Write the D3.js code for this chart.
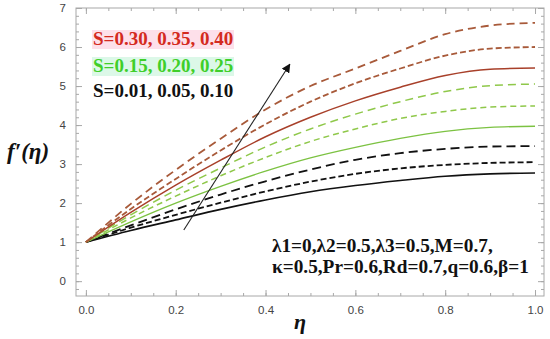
<!DOCTYPE html>
<html>
<head>
<meta charset="utf-8">
<script src="https://cdn.jsdelivr.net/npm/d3@7"></script>
<style>
  body { margin: 0; background: #fff; }
  .tick text { font-family: "Liberation Sans", Arial, sans-serif; font-size: 11.5px; fill: #444; }
  .serif { font-family: "Liberation Serif", "DejaVu Serif", "Times New Roman", serif; font-weight: bold; }
</style>
</head>
<body>
<script>
// eta sample points
var eta = [0, 0.1, 0.2, 0.3, 0.4, 0.5, 0.6, 0.7, 0.8, 0.9, 1.0];

// f'(eta), one array per S value
var s001 = [1, 1.30, 1.57, 1.84, 2.08, 2.29, 2.45, 2.58, 2.69, 2.75, 2.77];
var s005 = [1, 1.37, 1.70, 2.01, 2.30, 2.55, 2.75, 2.89, 2.98, 3.03, 3.05];
var s010 = [1, 1.43, 1.84, 2.22, 2.56, 2.86, 3.11, 3.28, 3.39, 3.45, 3.46];
var s015 = [1, 1.52, 2.00, 2.43, 2.82, 3.16, 3.43, 3.66, 3.84, 3.94, 3.97];
var s020 = [1, 1.62, 2.18, 2.70, 3.17, 3.58, 3.90, 4.17, 4.35, 4.46, 4.49];
var s025 = [1, 1.70, 2.33, 2.90, 3.44, 3.90, 4.28, 4.60, 4.86, 5.01, 5.05];
var s030 = [1, 1.76, 2.46, 3.10, 3.70, 4.20, 4.62, 4.97, 5.27, 5.43, 5.46];
var s035 = [1, 1.85, 2.62, 3.35, 4.02, 4.60, 5.07, 5.45, 5.78, 5.96, 6.00];
var s040 = [1, 1.98, 2.85, 3.65, 4.40, 5.00, 5.45, 5.90, 6.33, 6.55, 6.62];

var xTicks = [0, 0.2, 0.4, 0.6, 0.8, 1.0];
var yTicks = [0, 1, 2, 3, 4, 5, 6, 7];

var legendLabels = ["S=0.30, 0.35, 0.40", "S=0.15, 0.20, 0.25", "S=0.01, 0.05, 0.10"];
var paramLines = ["\u03bb1=0,\u03bb2=0.5,\u03bb3=0.5,M=0.7,", "\u03ba=0.5,Pr=0.6,Rd=0.7,q=0.6,\u03b2=1"];

var width = 550, height = 339;
var margin = {left: 76, right: 6, top: 8, bottom: 43};

var svg = d3.select("body").append("svg")
    .attr("width", width)
    .attr("height", height);

var x = d3.scaleLinear()
    .domain([-0.022, 1.02])
    .range([margin.left, width - margin.right]);

var y = d3.scaleLinear()
    .domain([-0.38, 7.0])
    .range([height - margin.bottom, margin.top]);

var frameColor = "#a8a8a8";

//frame
svg.append("rect")
    .attr("x", margin.left)
    .attr("y", margin.top)
    .attr("width", width - margin.left - margin.right)
    .attr("height", height - margin.top - margin.bottom)
    .attr("fill", "none")
    .attr("stroke", frameColor)
    .attr("stroke-width", 1);

//axes with inward ticks
function styleAxis(g){
    g.select(".domain").remove();
    g.selectAll(".tick line").attr("stroke", frameColor);
}

var xMinor = d3.range(0, 1.0001, 0.05);
var yMinor = d3.range(-0.2, 7.0001, 0.2);

svg.append("g")
    .attr("transform", "translate(0," + (height - margin.bottom) + ")")
    .call(d3.axisBottom(x).tickValues(xTicks).tickFormat(d3.format(".1f")).tickSize(-6).tickPadding(10))
    .call(styleAxis);

svg.append("g")
    .attr("transform", "translate(0," + (height - margin.bottom) + ")")
    .call(d3.axisBottom(x).tickValues(xMinor).tickFormat("").tickSize(-3))
    .call(styleAxis);

svg.append("g")
    .attr("transform", "translate(0," + margin.top + ")")
    .call(d3.axisTop(x).tickValues(xTicks).tickFormat("").tickSize(-6))
    .call(styleAxis);

svg.append("g")
    .attr("transform", "translate(0," + margin.top + ")")
    .call(d3.axisTop(x).tickValues(xMinor).tickFormat("").tickSize(-3))
    .call(styleAxis);

svg.append("g")
    .attr("transform", "translate(" + margin.left + ",0)")
    .call(d3.axisLeft(y).tickValues(yTicks).tickFormat(d3.format("d")).tickSize(-6).tickPadding(10))
    .call(styleAxis);

svg.append("g")
    .attr("transform", "translate(" + margin.left + ",0)")
    .call(d3.axisLeft(y).tickValues(yMinor).tickFormat("").tickSize(-3))
    .call(styleAxis);

svg.append("g")
    .attr("transform", "translate(" + (width - margin.right) + ",0)")
    .call(d3.axisRight(y).tickValues(yTicks).tickFormat("").tickSize(-6))
    .call(styleAxis);

svg.append("g")
    .attr("transform", "translate(" + (width - margin.right) + ",0)")
    .call(d3.axisRight(y).tickValues(yMinor).tickFormat("").tickSize(-3))
    .call(styleAxis);

//curves
var series = [
    {vals: s001, color: "#111111", dash: null, w: 1.6},
    {vals: s005, color: "#111111", dash: "6,3", w: 1.8},
    {vals: s010, color: "#111111", dash: "9,5", w: 1.8},
    {vals: s015, color: "#7cc242", dash: null, w: 1.3},
    {vals: s020, color: "#8fc84a", dash: "6,4", w: 1.5},
    {vals: s025, color: "#8fc84a", dash: "8,5", w: 1.5},
    {vals: s030, color: "#a8402a", dash: null, w: 1.5},
    {vals: s035, color: "#a85a3a", dash: "6,3", w: 1.8},
    {vals: s040, color: "#a85a3a", dash: "8,5", w: 1.8}
];

var line = d3.line()
    .x(function(d){ return x(d[0]); })
    .y(function(d){ return y(d[1]); })
    .curve(d3.curveMonotoneX);

svg.selectAll(".curve")
    .data(series)
    .enter()
    .append("path")
    .attr("class", "curve")
    .attr("fill", "none")
    .attr("stroke", function(d){ return d.color; })
    .attr("stroke-width", function(d){ return d.w; })
    .attr("stroke-dasharray", function(d){ return d.dash; })
    .attr("d", function(d){
        return line(eta.map(function(e, i){ return [e, d.vals[i]]; }));
    });

//arrow
svg.append("defs").append("marker")
    .attr("id", "head")
    .attr("viewBox", "0 0 10 10")
    .attr("refX", 9)
    .attr("refY", 5)
    .attr("markerWidth", 9)
    .attr("markerHeight", 9)
    .attr("markerUnits", "userSpaceOnUse")
    .attr("orient", "auto")
    .append("path")
    .attr("d", "M0,0 L10,5 L0,10 Z")
    .attr("fill", "#111");

svg.append("line")
    .attr("x1", x(0.218)).attr("y1", y(1.31))
    .attr("x2", x(0.454)).attr("y2", y(5.56))
    .attr("stroke", "#222")
    .attr("stroke-width", 1.1)
    .attr("marker-end", "url(#head)");

//legend text
var legColors = ["#d42a20", "#3fcf2a", "#111111"];
var legBg = ["#fde0ea", "#dcf8e8", null];
var legY = [45, 72, 97];

legendLabels.forEach(function(t, i){
    if (legBg[i]) {
        svg.append("rect")
            .attr("x", 92).attr("y", legY[i] - 15)
            .attr("width", 142).attr("height", 19)
            .attr("fill", legBg[i]);
    }
    svg.append("text")
        .attr("class", "serif")
        .attr("x", 93)
        .attr("y", legY[i])
        .attr("font-size", 19)
        .attr("fill", legColors[i])
        .text(t);
});

//parameter text
paramLines.forEach(function(t, i){
    svg.append("text")
        .attr("class", "serif")
        .attr("x", 272)
        .attr("y", 252 + i * 21)
        .attr("font-size", 19.3)
        .attr("fill", "#111")
        .text(t);
});

//axis titles
svg.append("text")
    .attr("class", "serif")
    .attr("x", 7)
    .attr("y", 159)
    .attr("font-style", "italic")
    .attr("font-size", 23)
    .attr("fill", "#111")
    .text("f\u2032(\u03b7)");

svg.append("text")
    .attr("class", "serif")
    .attr("x", 300)
    .attr("y", 329)
    .attr("text-anchor", "middle")
    .attr("font-style", "italic")
    .attr("font-size", 22)
    .attr("fill", "#111")
    .text("\u03b7");
</script>
</body>
</html>
